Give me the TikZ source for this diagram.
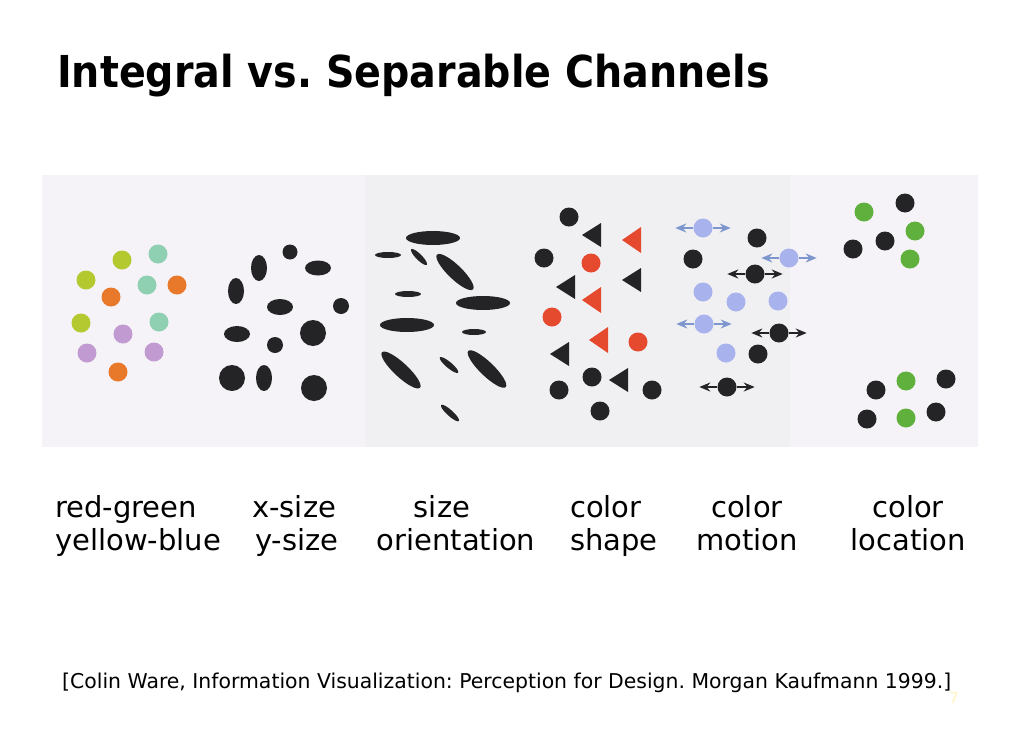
\documentclass[tikz,border=0pt]{standalone}
\usepackage{fontspec}
\usetikzlibrary{arrows.meta}
\newfontfamily\labelfont{DejaVu Sans}
\newfontfamily\titlefont{DejaVu Sans}[FakeStretch=0.9]
\definecolor{panelbg}{RGB}{245,243,247}
\definecolor{panelmid}{RGB}{240,240,243}
\definecolor{ink}{RGB}{36,36,38}
\definecolor{yelgreen}{RGB}{180,200,48}
\definecolor{teal}{RGB}{143,207,178}
\definecolor{orangedot}{RGB}{232,120,42}
\definecolor{purpledot}{RGB}{192,154,208}
\definecolor{reddot}{RGB}{229,73,46}
\definecolor{bluedot}{RGB}{168,178,236}
\definecolor{bluearrow}{RGB}{125,150,205}
\definecolor{greendot}{RGB}{95,176,60}
\definecolor{pagenum}{RGB}{255,244,190}
\begin{document}
\frenchspacing
\begin{tikzpicture}[x=1pt,y=-1pt,>={Stealth[length=11pt,width=9pt]},
  dot/.style={circle,inner sep=0pt,minimum size=19pt},
  label/.style={font=\labelfont\fontsize{29}{33}\selectfont,inner sep=0pt},
  motion/.style={->,line width=1.5pt}]
  \useasboundingbox (0,0) rectangle (1010,750);

  \node[anchor=base west,inner sep=0pt,font=\titlefont\bfseries\fontsize{44}{50}\selectfont] (title) at (57,87) {Integral vs. Separable Channels};

  \fill[panelbg] (42,175) rectangle (978,447);
  \fill[panelmid] (365,175) rectangle (790,447);

  % red-green / yellow-blue
  \foreach \x/\y [count=\i] in {122/260,86/280,81/323}
    \node[dot,fill=yelgreen] (yg\i) at (\x,\y) {};
  \foreach \x/\y [count=\i] in {158/254,147/285,159/322}
    \node[dot,fill=teal] (te\i) at (\x,\y) {};
  \foreach \x/\y [count=\i] in {177/285,111/297,118/372}
    \node[dot,fill=orangedot] (or\i) at (\x,\y) {};
  \foreach \x/\y [count=\i] in {123/334,87/353,154/352}
    \node[dot,fill=purpledot] (pu\i) at (\x,\y) {};

  % x-size / y-size
  \foreach \x/\y/\a/\b in {290/252/7.5/7.5,259/268/8/13,318/268/13/7.5,236/291/8/13,
      280/307/13/8,341/306/8/8,237/334/13/8,275/345/8/8,313/333/13/13,
      232/378/13/13,264/378/8/13,314/388/13/13}
    \fill[ink] (\x,\y) ellipse [x radius=\a,y radius=\b];

  % size / orientation
  \foreach \x/\y/\a/\b/\r in {433/238/27/7/0,388/255/13/3/0,419/257/11/3/-45,
      455/272/25/7/-44,408/294/13/3/0,483/303/27/7/0,407/325/27/7/0,
      474/332/12/3/0,401/370/26/7/-43,449/365/12/3/-40,487/369/26/7/-44,
      450/413/12/3/-42}
    \fill[ink,rotate around={\r:(\x,\y)}] (\x,\y) ellipse [x radius=\a,y radius=\b];

  % color / shape
  \foreach \x/\y [count=\i] in {569/217,544/258,592/377,559/390,652/390,600/411}
    \node[dot,fill=ink] (cs\i) at (\x,\y) {};
  \foreach \x/\y [count=\i] in {591/263,552/317,638/342}
    \node[dot,fill=reddot] (cr\i) at (\x,\y) {};
  \foreach \x/\y in {582/235,622/280,556/287,550/354,609/380}
    \fill[ink] (\x,\y) -- ++(19,-12) -- ++(0,24) -- cycle;
  \foreach \x/\y in {622/240,582/300,589/340}
    \fill[reddot] (\x,\y) -- ++(19,-13) -- ++(0,26) -- cycle;

  % color / motion
  \foreach \x/\y [count=\i] in {703/228,789/258,704/324}
    \node[dot,fill=bluedot] (mb\i) at (\x,\y) {};
  \foreach \x/\y [count=\i] in {703/292,736/302,778/301,726/353}
    \node[dot,fill=bluedot] (sb\i) at (\x,\y) {};
  \foreach \x/\y [count=\i] in {755/274,779/333,727/387}
    \node[dot,fill=ink] (mk\i) at (\x,\y) {};
  \foreach \x/\y [count=\i] in {757/238,693/259,758/354}
    \node[dot,fill=ink] (sk\i) at (\x,\y) {};
  \foreach \n in {mb1,mb2,mb3}{
    \draw[motion,bluearrow] (\n.west) -- +(-18,0);
    \draw[motion,bluearrow] (\n.east) -- +(18,0);
  }
  \foreach \n in {mk1,mk2,mk3}{
    \draw[motion,ink] (\n.west) -- +(-18,0);
    \draw[motion,ink] (\n.east) -- +(18,0);
  }

  % color / location
  \foreach \x/\y [count=\i] in {864/212,915/231,910/259,906/381,906/418}
    \node[dot,fill=greendot] (lg\i) at (\x,\y) {};
  \foreach \x/\y [count=\i] in {905/203,885/241,853/249,946/379,876/390,867/419,936/412}
    \node[dot,fill=ink] (lk\i) at (\x,\y) {};

  \node[label,anchor=base west] (rg) at (55,517) {red-green};
  \node[label,anchor=base west] (yb) at (55,550) {yellow-blue};
  \node[label,anchor=base west] (xs) at (252,517) {x-size};
  \node[label,anchor=base west] (ys) at (255,550) {y-size};
  \node[label,anchor=base] (sz) at (442,517) {size};
  \node[label,anchor=base] (ori) at (456,550) {orientation};
  \node[label,anchor=base west] (c1) at (570,517) {color};
  \node[label,anchor=base west] (shp) at (570,550) {shape};
  \node[label,anchor=base] (c2) at (747,517) {color};
  \node[label,anchor=base] (mot) at (747,550) {motion};
  \node[label,anchor=base] (c3) at (908,517) {color};
  \node[label,anchor=base] (loc) at (908,550) {location};

  \node[anchor=base west,inner sep=0pt,font=\labelfont\fontsize{20.4}{24}\selectfont] (cite) at (62,688)
    {[Colin Ware, Information Visualization: Perception for Design. Morgan Kaufmann 1999.]};
  \node[inner sep=0pt,text=pagenum,font=\labelfont\fontsize{15}{18}\selectfont] (page) at (954,698) {7};
\end{tikzpicture}
\end{document}
